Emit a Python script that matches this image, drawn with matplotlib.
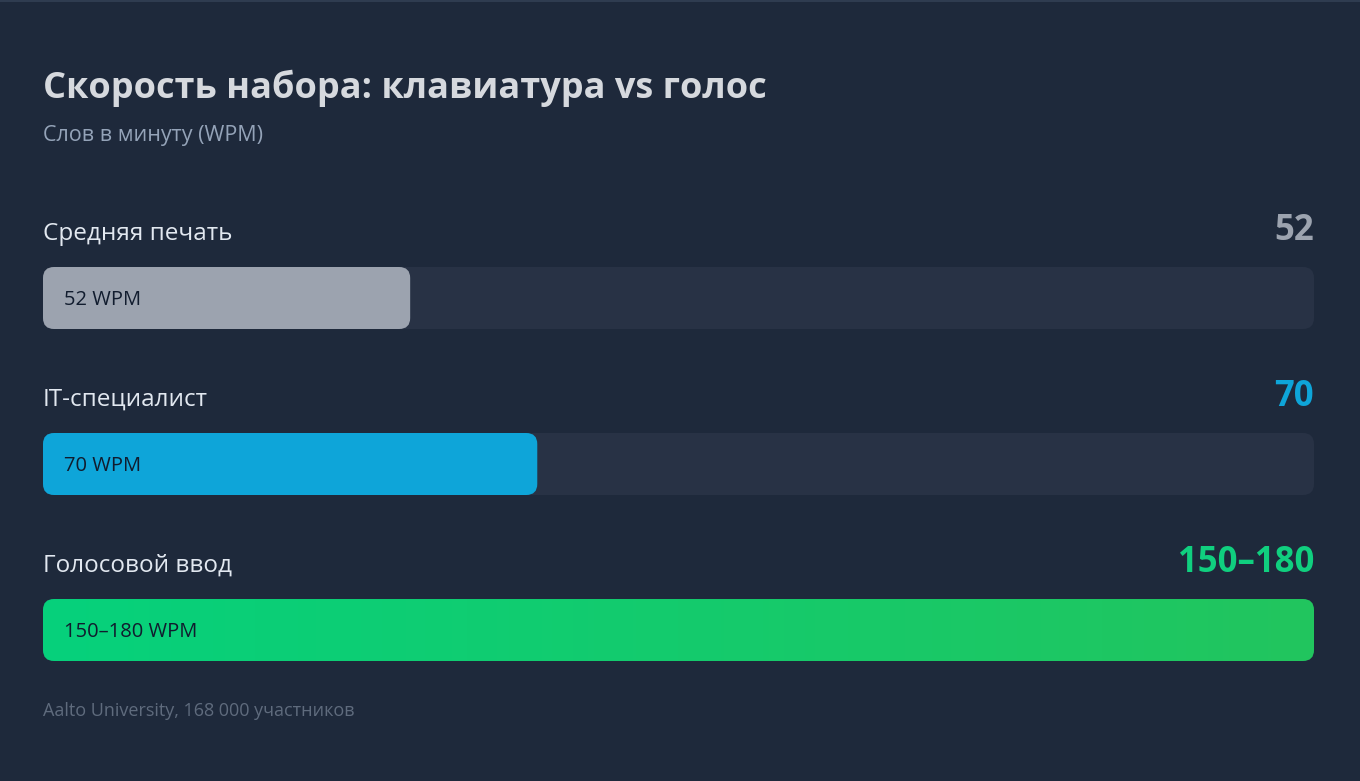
import numpy as np
import matplotlib.pyplot as plt
from matplotlib.patches import FancyBboxPatch
from matplotlib.colors import LinearSegmentedColormap

# data
categories = ["Средняя печать", "IT-специалист", "Голосовой ввод"]
wpm_low = [52, 70, 150]
wpm_high = [52, 70, 180]
value_labels = ["52", "70", "150–180"]
bar_labels = ["52 WPM", "70 WPM", "150–180 WPM"]
scale_max = 180

title = "Скорость набора: клавиатура vs голос"
subtitle = "Слов в минуту (WPM)"
source = "Aalto University, 168 000 участников"

BG = "#1e293b"
TRACK = "#283245"
bar_colors = ["#9ca3af", "#0ea5d9", None]
value_colors = ["#9ca3af", "#0ea5d9", "#10cf7f"]
green_cmap = LinearSegmentedColormap.from_list("g", ["#06d17c", "#22c55e"], N=1024)

plt.rcParams['font.family'] = ['Open Sans', 'DejaVu Sans']

W, H = 1360, 781
fig = plt.figure(figsize=(W / 100, H / 100), dpi=100, facecolor=BG)

# background axes in pixel units for the text
bg = fig.add_axes([0, 0, 1, 1])
bg.set_xlim(0, W)
bg.set_ylim(H, 0)
bg.axis("off")
bg.plot([0, W], [0.5, 0.5], color="#334155", lw=1.2)

bg.text(43, 88, title, fontsize=26, fontweight="bold", color="#d6d9de",
        va="center", ha="left")
bg.text(43, 135, subtitle, fontsize=15.5, color="#94a3b8", va="center", ha="left")
bg.text(43, 711, source, fontsize=13, color="#5f6b7d", va="center", ha="left")

# bars axes: x in WPM, y in pixels
left, right = 43, 1314
ax = fig.add_axes([left / W, 0, (right - left) / W, 1])
ax.set_xlim(0, scale_max)
ax.set_ylim(H, 0)
ax.axis("off")

px_per_unit = (right - left) / scale_max
radius_px = 11
r_x = radius_px / px_per_unit
aspect = radius_px / r_x

label_y = [234, 400, 566]
bar_top = [267, 433, 599]
bar_h = 62

for i, cat in enumerate(categories):
    y0 = bar_top[i]
    ax.text(0, label_y[i], cat, fontsize=17.5, color="#e2e8f0", va="center", ha="left")
    ax.text(scale_max, label_y[i] - 3, value_labels[i], fontsize=25, fontweight="bold",
            color=value_colors[i], va="center", ha="right")

    track = FancyBboxPatch((0, y0), scale_max, bar_h,
                           boxstyle=f"round,pad=0,rounding_size={r_x}",
                           mutation_aspect=aspect, fc=TRACK, ec="none", zorder=1)
    ax.add_patch(track)

    w = wpm_high[i]
    if bar_colors[i] is not None:
        bar = FancyBboxPatch((0, y0), w, bar_h,
                             boxstyle=f"round,pad=0,rounding_size={r_x}",
                             mutation_aspect=aspect, fc=bar_colors[i], ec="none", zorder=2)
        ax.add_patch(bar)
    else:
        bar = FancyBboxPatch((0, y0), w, bar_h,
                             boxstyle=f"round,pad=0,rounding_size={r_x}",
                             mutation_aspect=aspect, fc="none", ec="none", zorder=2)
        ax.add_patch(bar)
        grad = np.linspace(0, 1, 1024).reshape(1, -1)
        im = ax.imshow(grad, cmap=green_cmap, aspect="auto", zorder=2,
                       extent=(0, w, y0 + bar_h, y0), interpolation="bilinear")
        im.set_clip_path(bar)

    ax.text(21 / px_per_unit, y0 + bar_h / 2 + 2, bar_labels[i], fontsize=14.5,
            fontweight="medium", color="#111c2e", va="center", ha="left", zorder=3)

ax.set_xlim(0, scale_max)
ax.set_ylim(H, 0)

fig.savefig("out.png", dpi=100, facecolor=BG)
